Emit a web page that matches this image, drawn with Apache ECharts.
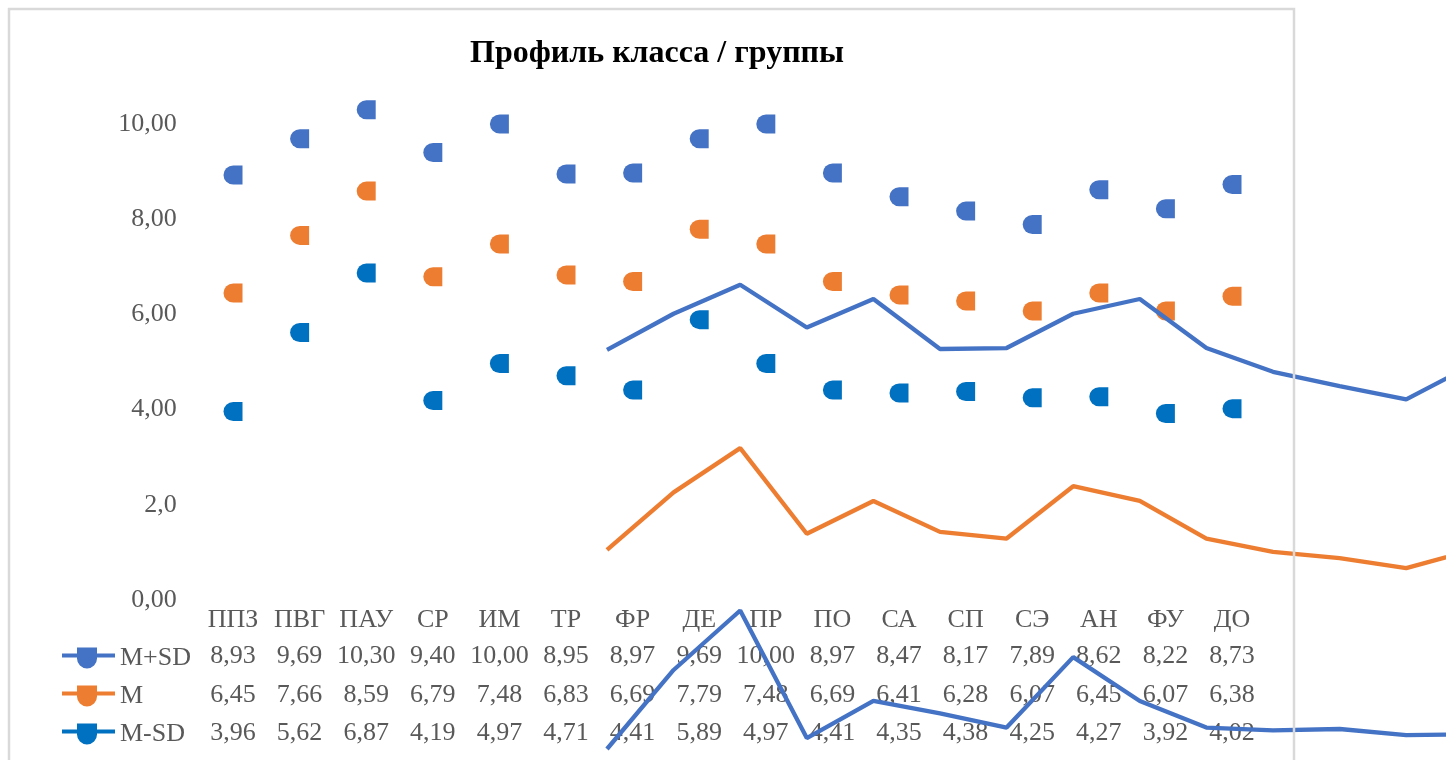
<!DOCTYPE html>
<html>
<head>
<meta charset="utf-8">
<script src="https://cdn.jsdelivr.net/npm/echarts@6/dist/echarts.min.js"></script>
<style>
html,body{margin:0;padding:0;background:#fff;}
#chart{width:1446px;height:760px;}
</style>
</head>
<body>
<div id="chart"></div>
<script>
// ---- data ----
const chartTitle = 'Профиль класса / группы';
const categories = ['ППЗ','ПВГ','ПАУ','СР','ИМ','ТР','ФР','ДЕ','ПР','ПО','СА','СП','СЭ','АН','ФУ','ДО'];
const seriesNames = ['M+SD','M','M-SD'];
const mPlusSD  = [8.93,9.69,10.30,9.40,10.00,8.95,8.97,9.69,10.00,8.97,8.47,8.17,7.89,8.62,8.22,8.73];
const mean     = [6.45,7.66,8.59,6.79,7.48,6.83,6.69,7.79,7.48,6.69,6.41,6.28,6.07,6.45,6.07,6.38];
const mMinusSD = [3.96,5.62,6.87,4.19,4.97,4.71,4.41,5.89,4.97,4.41,4.35,4.38,4.25,4.27,3.92,4.02];
const yTickLabels = ['0,00','2,0','4,00','6,00','8,00','10,00'];

// ---- styling / layout ----
const FONT = '"Liberation Serif","Times New Roman",serif';
const TXT = '#595959';
const markerColors = ['#4472C4','#ED7D31','#0070C0'];
const lineColors = ['#4472C4','#ED7D31','#4472C4'];
const PX_PER_UNIT = 47.6, YMAX = 12;
const CAT_W = 66.6;
const gridW = CAT_W * categories.length;
const gridH = PX_PER_UNIT * YMAX;
const mainLeft = 199.7, mainZero = 600;
const lineLeft = 573.7;
const lineZeros = [775, 857, 937.5];
const rowOffsets = [38, 77, 115];
const allSeries = [mPlusSD, mean, mMinusSD];
const fmt = v => v.toFixed(2).replace('.', ',');

const markerPath = 'path://M10,0 L19,0 L19,19 L10,19 A9.5,9.5 0 0 1 10,0 Z';
const legendIcon = 'path://M0,6 L53,6 L53,10 L0,10 Z M15,0 L35,0 L35,11 A10,10 0 0 1 15,11 Z';

const labelStyle = {fontFamily: FONT, fontSize: 26, color: TXT};

const gridBase = {outerBoundsMode: 'none', containLabel: false};
const grids = [Object.assign({left: mainLeft, top: mainZero - gridH, width: gridW, height: gridH}, gridBase)];
lineZeros.forEach(z => grids.push(Object.assign({left: lineLeft, top: z - gridH, width: gridW, height: gridH}, gridBase)));

const xAxes = [{
  gridIndex: 0, type: 'category', data: categories, position: 'bottom',
  axisLine: {show: false}, axisTick: {show: false}, splitLine: {show: false},
  axisLabel: Object.assign({interval: 0, margin: 7}, labelStyle)
}];
allSeries.forEach((arr, k) => xAxes.push({
  gridIndex: 0, type: 'category', data: arr.map(fmt), position: 'bottom', offset: rowOffsets[k],
  axisLine: {show: false}, axisTick: {show: false}, splitLine: {show: false},
  axisLabel: Object.assign({interval: 0, margin: 5}, labelStyle)
}));
for (let g = 1; g <= 3; g++) xAxes.push({
  gridIndex: g, type: 'category', data: categories, show: false
});

const yAxes = [{
  gridIndex: 0, type: 'value', min: 0, max: YMAX, interval: 2,
  axisLine: {show: false}, axisTick: {show: false}, splitLine: {show: false},
  axisLabel: Object.assign({margin: 23, formatter: v => yTickLabels[Math.round(v / 2)] || ''}, labelStyle)
}];
for (let g = 1; g <= 3; g++) yAxes.push({gridIndex: g, type: 'value', min: 0, max: YMAX, show: false});

const series = [];
allSeries.forEach((arr, k) => series.push({
  name: seriesNames[k], type: 'scatter', xAxisIndex: 0, yAxisIndex: 0,
  data: arr.map((v, i) => [i, v]),
  symbol: markerPath, symbolSize: 19,
  itemStyle: {color: markerColors[k], opacity: 1}, z: 3
}));
allSeries.forEach((arr, k) => series.push({
  name: seriesNames[k] + ' line', type: 'line', xAxisIndex: 4 + k, yAxisIndex: 1 + k,
  data: arr, symbol: 'none', clip: false,
  lineStyle: {color: lineColors[k], width: 4.3}, z: 5
}));

const chart = echarts.init(document.getElementById('chart'), null, {renderer: 'canvas'});
chart.setOption({
  backgroundColor: '#ffffff',
  animation: false,
  title: {
    text: chartTitle, left: 652, top: 33, textAlign: 'center',
    textStyle: {fontFamily: FONT, fontSize: 32, fontWeight: 'bold', color: '#000000'}
  },
  legend: {
    orient: 'vertical', left: 62, top: 645, itemGap: 12, padding: 0,
    itemWidth: 53, itemHeight: 21, selectedMode: false,
    data: seriesNames.map((n, k) => ({name: n, icon: legendIcon, itemStyle: {color: markerColors[k], opacity: 1}})),
    textStyle: {fontFamily: FONT, fontSize: 26, color: TXT, lineHeight: 26}
  },
  grid: grids,
  xAxis: xAxes,
  yAxis: yAxes,
  series: series,
  graphic: [{
    type: 'rect', silent: true, z: 100,
    shape: {x: 9, y: 9, width: 1285, height: 800},
    style: {fill: null, stroke: '#D9D9D9', lineWidth: 2.5}
  }]
});
</script>
</body>
</html>
